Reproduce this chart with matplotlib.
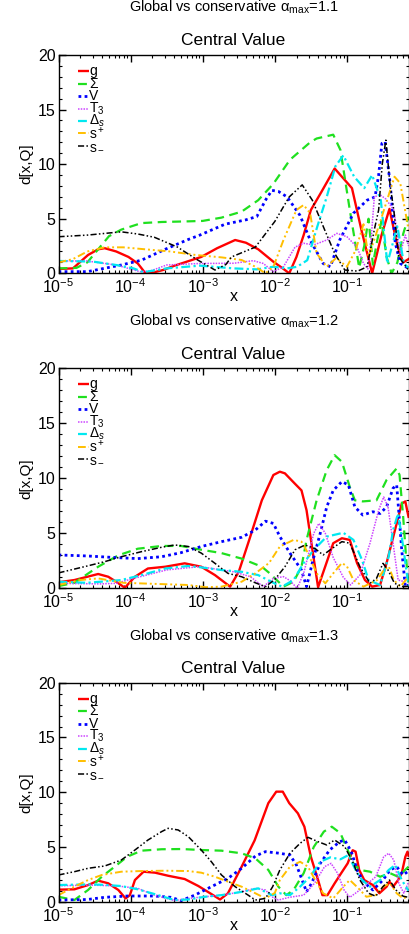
import matplotlib
matplotlib.use("Agg")
import matplotlib.pyplot as plt
from matplotlib.ticker import LogLocator, MultipleLocator, NullFormatter
import numpy as np

plt.rcParams.update({
    "font.family": ["Liberation Sans", "DejaVu Sans"],
    "mathtext.fontset": "custom",
    "mathtext.rm": "Liberation Sans",
    "mathtext.it": "Liberation Sans:italic",
    "mathtext.bf": "Liberation Sans:bold",
    "font.size": 10,
    "axes.linewidth": 1.0,
    "xtick.direction": "in",
    "ytick.direction": "in",
    "xtick.top": True,
    "ytick.right": True,
})

# ---- data: log10(x) and d[x,Q] ----
# panel 1 (alpha_max = 1.1)
g1_lx = [-5.0, -4.8, -4.59, -4.45, -4.36, -4.2, -4.03, -3.9, -3.8, -3.7, -3.55, -3.39, -3.02, -2.8, -2.55,
         -2.4, -2.23, -2.02, -1.9, -1.8, -1.7, -1.6, -1.5, -1.35, -1.17, -0.93, -0.8, -0.65, -0.52, -0.41,
         -0.3, -0.22, -0.146]
g1_d = [0.4, 0.45, 1.68, 2.2, 2.3, 2.0, 1.5, 0.9, 0.05, 0.05, 0.3, 0.7, 1.5, 2.3, 3.05,
        2.8, 2.2, 1.06, 0.5, 0.0, 1.5, 3.5, 5.8, 7.5, 9.6, 7.8, 4.0, 0.0, 3.5, 5.9,
        2.5, 1.0, 1.3]
sig1_lx = [-5.0, -4.75, -4.6, -4.45, -4.3, -4.13, -3.85, -3.57, -3.2, -3.0, -2.74, -2.46, -2.23, -2.02,
           -1.79, -1.51, -1.42, -1.19, -1.09, -0.96, -0.89, -0.83, -0.76, -0.70, -0.64, -0.58, -0.52,
           -0.45, -0.38, -0.3, -0.22, -0.146]
sig1_d = [0.45, 0.5, 1.0, 2.2, 3.4, 4.0, 4.6, 4.7, 4.76, 4.8, 5.1, 5.65, 6.7, 8.2,
          10.4, 12.0, 12.35, 12.7, 11.3, 5.8, 3.0, 0.5, 2.5, 5.0, 0.8, 3.0, 4.8,
          1.5, 0.0, 1.0, 3.6, 5.2]
v1_lx = [-5.0, -4.6, -4.36, -4.13, -3.85, -3.52, -3.2, -3.04, -2.69, -2.4, -2.25, -2.12, -2.04, -1.95,
         -1.83, -1.65, -1.51, -1.33, -1.23, -1.10, -0.91, -0.72, -0.61, -0.56, -0.515, -0.47, -0.40,
         -0.33, -0.26, -0.146]
v1_d = [0.15, 0.15, 0.46, 0.76, 1.2, 2.2, 3.1, 3.5, 4.5, 4.9, 5.2, 6.8, 7.6, 7.5,
        7.0, 5.3, 3.05, 0.9, 0.6, 3.05, 5.5, 6.7, 7.0, 9.0, 11.9, 12.06, 8.2,
        2.8, 0.9, 0.45]
t1_lx = [-5.0, -4.61, -4.2, -3.87, -3.73, -3.5, -3.04, -2.57, -2.3, -2.16, -2.02, -1.88, -1.72, -1.60,
         -1.46, -1.28, -1.14, -1.0, -0.86, -0.77, -0.71, -0.66, -0.62, -0.54, -0.46, -0.35, -0.26,
         -0.19, -0.146]
t1_d = [1.13, 1.13, 0.76, 0.15, 0.2, 0.76, 0.9, 0.92, 1.16, 0.9, 0.15, 0.6, 2.4, 2.75,
        2.6, 3.05, 3.66, 3.35, 2.4, 0.9, 0.4, 3.5, 7.0, 7.2, 6.8, 5.8, 1.83,
        3.5, 2.5]
ds1_lx = [-5.0, -4.52, -4.2, -3.96, -3.82, -3.5, -3.04, -2.57, -2.25, -2.02, -1.83, -1.69, -1.55, -1.41,
          -1.28, -1.16, -1.05, -0.9, -0.76, -0.65, -0.53, -0.44, -0.30, -0.21, -0.146]
ds1_d = [1.13, 1.07, 0.76, 0.45, 0.1, 0.45, 0.7, 0.45, 0.36, 0.6, 0.45, 0.6, 1.2, 4.3,
         7.0, 9.8, 10.8, 8.85, 7.8, 9.0, 6.7, 0.9, 4.3, 0.9, 0.5]
sp1_lx = [-5.0, -4.8, -4.6, -4.36, -4.1, -3.8, -3.45, -3.1, -2.74, -2.46, -2.27, -2.13, -2.02, -1.88,
          -1.70, -1.60, -1.51, -1.42, -1.28, -1.15, -1.0, -0.88, -0.77, -0.70, -0.6, -0.53, -0.34,
          -0.26, -0.17, -0.146]
sp1_d = [1.0, 1.3, 2.0, 2.38, 2.38, 2.2, 2.0, 1.68, 1.46, 1.22, 0.6, 0.0, 0.6, 3.05,
         5.8, 6.26, 5.5, 1.83, 0.6, 1.4, 0.6, 2.1, 4.5, 1.5, 3.5, 4.9, 8.85,
         8.25, 4.9, 4.0]
sm1_lx = [-5.0, -4.6, -4.13, -3.9, -3.67, -3.35, -3.07, -2.83, -2.68, -2.6, -2.27, -2.0, -1.8, -1.62,
          -1.48, -1.31, -1.17, -1.03, -0.85, -0.72, -0.62, -0.56, -0.51, -0.46, -0.40, -0.35, -0.28,
          -0.146]
sm1_d = [3.35, 3.5, 3.8, 3.6, 3.3, 2.4, 1.22, 0.3, 0.8, 1.5, 2.4, 4.75, 7.0, 8.1,
         6.7, 4.0, 1.83, 0.3, 0.2, 0.6, 4.0, 5.8, 10.0, 12.2, 8.0, 5.8, 1.5,
         0.3]

# panel 2 (alpha_max = 1.2)
g2_lx = [-5.0, -4.78, -4.45, -4.31, -4.2, -4.08, -3.94, -3.76, -3.52, -3.25, -3.02, -2.83, -2.62, -2.5,
         -2.35, -2.18, -2.02, -1.93, -1.86, -1.72, -1.63, -1.56, -1.465, -1.40, -1.30, -1.19, -1.07,
         -0.96, -0.86, -0.75, -0.65, -0.54, -0.45, -0.38, -0.31, -0.24, -0.19, -0.146]
g2_d = [0.55, 0.75, 1.3, 1.05, 0.6, 0.05, 1.05, 1.8, 1.96, 2.27, 1.96, 1.2, 0.15, 1.5,
        4.5, 8.0, 10.3, 10.6, 10.45, 9.5, 8.9, 7.1, 2.9, 0.1, 2.0, 4.1, 4.55,
        4.4, 2.3, 0.75, 0.15, 0.3, 2.3, 4.1, 5.9, 7.7, 7.9, 6.5]
sig2_lx = [-5.0, -4.78, -4.45, -4.17, -3.9, -3.57, -3.3, -3.06, -2.74, -2.46, -2.18, -2.07, -1.88, -1.74,
           -1.63, -1.56, -1.42, -1.28, -1.17, -1.07, -0.96, -0.89, -0.78, -0.59, -0.45, -0.31, -0.27,
           -0.22, -0.17, -0.146]
sig2_d = [0.2, 0.5, 1.96, 3.0, 3.6, 3.85, 3.85, 3.55, 3.2, 2.7, 1.96, 1.36, 0.15, 0.6,
          1.96, 4.4, 8.0, 10.75, 12.1, 11.5, 9.2, 8.0, 7.9, 8.0, 9.85, 10.9, 10.3,
          6.5, 2.0, 0.3]
v2_lx = [-5.0, -4.6, -4.23, -3.9, -3.57, -3.3, -3.02, -2.74, -2.46, -2.27, -2.13, -2.02, -1.93, -1.79,
         -1.63, -1.56, -1.47, -1.37, -1.28, -1.19, -1.07, -0.98, -0.89, -0.78, -0.64, -0.54, -0.45,
         -0.36, -0.31, -0.24, -0.19, -0.146]
v2_d = [3.03, 2.94, 2.8, 2.7, 2.87, 3.24, 3.8, 4.24, 4.64, 5.3, 6.1, 5.9, 4.7, 3.2,
        1.66, 0.15, 2.57, 5.0, 7.4, 8.9, 9.7, 9.4, 7.4, 6.66, 6.96, 6.8, 7.4,
        9.1, 9.4, 3.5, 0.15, 0.3]
t2_lx = [-5.0, -4.43, -4.2, -3.96, -3.5, -3.04, -2.57, -2.34, -2.16, -2.02, -1.88, -1.79, -1.69, -1.6,
         -1.46, -1.39, -1.30, -1.19, -1.05, -0.95, -0.82, -0.68, -0.56, -0.49, -0.43, -0.36, -0.29,
         -0.2, -0.146]
t2_d = [0.45, 0.4, 0.45, 0.9, 1.67, 1.97, 1.5, 1.06, 0.15, 0.9, 1.06, 0.7, 0.0, 1.36,
        5.0, 5.9, 5.0, 2.8, 1.0, 0.3, 1.2, 4.1, 7.1, 8.3, 7.4, 4.1, 0.75,
        0.6, 1.4]
ds2_lx = [-5.0, -4.6, -4.13, -3.85, -3.52, -3.2, -3.02, -2.74, -2.46, -2.23, -2.02, -1.9, -1.74, -1.6,
          -1.46, -1.28, -1.05, -0.91, -0.79, -0.70, -0.54, -0.42, -0.36, -0.29, -0.22, -0.146]
ds2_d = [0.6, 0.5, 0.75, 1.2, 1.8, 2.03, 1.9, 1.66, 1.5, 1.2, 0.5, 0.15, 0.75, 2.3,
         3.5, 4.7, 5.05, 4.4, 2.57, 0.75, 0.3, 2.9, 5.3, 6.8, 3.8, 0.2]
sp2_lx = [-5.0, -4.7, -4.45, -4.1, -3.65, -3.2, -2.96, -2.74, -2.46, -2.27, -2.08, -1.93, -1.74, -1.63,
          -1.54, -1.42, -1.30, -1.19, -1.07, -1.0, -0.91, -0.77, -0.58, -0.49, -0.42, -0.35, -0.26,
          -0.146]
sp2_d = [0.3, 0.75, 0.9, 0.5, 0.4, 0.3, 0.1, 0.15, 0.6, 1.36, 2.3, 3.8, 4.4, 4.24,
         3.2, 1.36, 0.45, 1.36, 2.3, 2.0, 0.75, 0.15, 0.75, 1.66, 2.0, 0.75, 0.15,
         1.05]
sm2_lx = [-5.0, -4.6, -4.36, -4.13, -3.85, -3.57, -3.39, -3.2, -3.02, -2.83, -2.65, -2.46, -2.27, -2.13,
          -2.0, -1.86, -1.72, -1.58, -1.44, -1.33, -1.21, -1.07, -0.96, -0.82, -0.68, -0.59, -0.50,
          -0.43, -0.34, -0.22, -0.146]
sm2_d = [1.4, 2.03, 2.42, 2.87, 3.33, 3.73, 3.94, 3.8, 3.2, 2.27, 1.36, 1.05, 0.5, 0.15,
         0.8, 1.96, 3.5, 3.94, 3.6, 3.03, 3.6, 4.24, 4.1, 1.96, 0.45, 0.9, 2.27,
         1.66, 0.45, 0.15, 0.2]

# panel 3 (alpha_max = 1.3)
g3_lx = [-5.0, -4.78, -4.59, -4.45, -4.31, -4.17, -4.07, -4.01, -3.94, -3.82, -3.66, -3.48, -3.25, -3.06,
         -2.88, -2.76, -2.65, -2.46, -2.28, -2.09, -1.98, -1.89, -1.80, -1.68, -1.59, -1.50, -1.40,
         -1.34, -1.27, -1.17, -1.08, -0.99, -0.92, -0.88, -0.83, -0.76, -0.64, -0.55, -0.45, -0.41,
         -0.36, -0.29, -0.24, -0.19, -0.16, -0.146]
g3_d = [1.1, 1.13, 1.52, 1.92, 1.68, 1.07, 0.3, 0.6, 1.98, 2.74, 2.65, 2.37, 2.07, 1.43,
        0.7, 0.2, 0.77, 3.2, 5.6, 9.0, 10.05, 10.05, 9.0, 8.07, 6.85, 4.1, 1.98,
        0.6, 0.6, 1.68, 2.6, 3.5, 4.7, 4.57, 2.9, 1.98, 1.52, 0.77, 1.37, 1.83,
        1.37, 1.98, 2.6, 4.1, 4.57, 4.2]
sig3_lx = [-5.0, -4.78, -4.59, -4.40, -4.22, -4.05, -3.85, -3.57, -3.29, -3.02, -2.74, -2.46, -2.27, -2.09,
           -1.95, -1.84, -1.74, -1.60, -1.46, -1.32, -1.21, -1.09, -1.0, -0.91, -0.82, -0.68, -0.54,
           -0.40, -0.29, -0.146]
sig3_d = [0.45, 0.15, 1.07, 2.28, 3.2, 4.1, 4.66, 4.79, 4.81, 4.72, 4.66, 4.42, 3.96, 2.9,
          1.37, 0.6, 1.07, 2.6, 5.0, 6.4, 6.85, 6.25, 4.88, 3.5, 2.9, 2.74, 2.28,
          2.6, 2.28, 3.2]
v3_lx = [-5.0, -4.6, -4.36, -4.04, -3.67, -3.44, -3.30, -3.11, -2.88, -2.65, -2.46, -2.27, -2.13, -1.93,
         -1.79, -1.70, -1.63, -1.56, -1.49, -1.37, -1.24, -1.10, -1.03, -0.94, -0.85, -0.75, -0.64,
         -0.50, -0.40, -0.31, -0.22, -0.146]
v3_d = [0.15, 0.2, 0.4, 0.52, 0.52, 0.4, 0.1, 0.6, 1.37, 2.13, 3.05, 4.17, 4.57, 4.42,
        4.26, 3.35, 2.13, 0.9, 1.68, 3.5, 4.72, 5.48, 5.63, 4.57, 2.74, 1.68, 1.07,
        1.98, 2.9, 3.2, 2.44, 2.8]
t3_lx = [-5.0, -4.59, -4.2, -3.9, -3.67, -3.39, -3.2, -2.97, -2.74, -2.46, -2.27, -2.13, -2.04, -1.95,
         -1.8, -1.6, -1.45, -1.31, -1.22, -1.13, -1.04, -0.96, -0.82, -0.6, -0.49, -0.42, -0.35,
         -0.28, -0.21, -0.146]
t3_d = [1.45, 1.52, 1.45, 1.22, 0.6, 0.1, 0.3, 0.45, 0.6, 0.9, 1.22, 1.07, 0.45, 0.15,
        0.4, 0.6, 1.68, 3.2, 3.5, 2.6, 1.07, 0.4, 1.07, 2.28, 4.1, 4.42, 3.8,
        1.68, 0.77, 1.8]
ds3_lx = [-5.0, -4.6, -4.4, -4.13, -3.9, -3.67, -3.39, -3.2, -2.97, -2.74, -2.46, -2.23, -2.04, -1.93,
          -1.79, -1.65, -1.51, -1.37, -1.23, -1.09, -0.98, -0.88, -0.79, -0.68, -0.54, -0.42, -0.33,
          -0.24, -0.146]
ds3_d = [1.52, 1.58, 1.55, 1.43, 1.13, 0.7, 0.15, 0.2, 0.45, 0.6, 0.9, 1.22, 0.6, 0.77,
         0.6, 1.37, 2.28, 3.65, 4.05, 3.87, 4.26, 2.9, 1.98, 1.37, 1.98, 2.9, 3.35,
         1.98, 1.0]
sp3_lx = [-5.0, -4.78, -4.59, -4.40, -4.13, -3.85, -3.52, -3.2, -3.02, -2.83, -2.65, -2.46, -2.27, -2.13,
          -2.0, -1.93, -1.79, -1.65, -1.54, -1.44, -1.33, -1.19, -1.05, -0.96, -0.84, -0.73, -0.6,
          -0.5, -0.40, -0.31, -0.22, -0.146]
sp3_d = [0.6, 1.37, 1.98, 2.44, 2.74, 2.8, 2.83, 2.8, 2.65, 2.28, 1.83, 1.37, 0.77, 0.3,
         0.8, 1.98, 3.2, 3.65, 3.2, 1.98, 0.77, 0.3, 1.37, 1.98, 1.22, 0.45, 0.6,
         1.37, 1.68, 0.77, 0.3, 0.5]
sm3_lx = [-5.0, -4.78, -4.59, -4.36, -4.13, -3.94, -3.76, -3.57, -3.48, -3.34, -3.2, -3.02, -2.88, -2.74,
          -2.55, -2.37, -2.27, -2.13, -2.03, -1.93, -1.79, -1.65, -1.54, -1.40, -1.28, -1.17, -1.03,
          -0.91, -0.82, -0.70, -0.6, -0.50, -0.41, -0.32, -0.22, -0.146]
sm3_d = [2.44, 2.74, 3.05, 3.26, 3.8, 4.72, 5.63, 6.4, 6.7, 6.55, 5.94, 4.72, 3.65, 2.44,
         1.37, 0.6, 0.15, 0.3, 1.37, 2.9, 4.42, 5.33, 5.88, 5.48, 5.18, 5.63, 5.02,
         3.5, 1.98, 0.77, 0.5, 1.37, 1.98, 1.07, 0.5, 0.4]

alpha_max = ["1.1", "1.2", "1.3"]
labels = ["g", "Σ", "V", "T$_3$", "Δ$_s$", "s$^+$", "s$_-$"]
panels = [
    [(g1_lx, g1_d), (sig1_lx, sig1_d), (v1_lx, v1_d), (t1_lx, t1_d), (ds1_lx, ds1_d), (sp1_lx, sp1_d), (sm1_lx, sm1_d)],
    [(g2_lx, g2_d), (sig2_lx, sig2_d), (v2_lx, v2_d), (t2_lx, t2_d), (ds2_lx, ds2_d), (sp2_lx, sp2_d), (sm2_lx, sm2_d)],
    [(g3_lx, g3_d), (sig3_lx, sig3_d), (v3_lx, v3_d), (t3_lx, t3_d), (ds3_lx, ds3_d), (sp3_lx, sp3_d), (sm3_lx, sm3_d)],
]

# line styles per flavour
styles = [
    dict(color="#ff0000", lw=1.7, ls="-"),
    dict(color="#1fe01f", lw=1.6, ls=(0, (4, 2.5))),
    dict(color="#0000ff", lw=2.0, ls=(0, (1, 1.2))),
    dict(color="#cc44ff", lw=1.1, ls=(0, (1, 0.8))),
    dict(color="#00e8f0", lw=1.6, ls=(0, (4, 1.5, 1, 1.5))),
    dict(color="#ffbf00", lw=1.4, ls=(0, (4, 1.5, 1, 1.5, 1, 1.5))),
    dict(color="black", lw=1.1, ls=(0, (4, 1.5, 1, 1.5, 1, 1.5))),
]

W, H = 409, 934
fig = plt.figure(figsize=(W / 100, H / 100), dpi=100)
fig.patch.set_facecolor("white")

# axes boxes in pixels (top, bottom)
boxes = [(55, 273.3), (368.3, 588.3), (682.7, 901.7)]
sup_y = [7, 321, 636]
ax_left, ax_right = 58.5, 408.5
xmax = 10 ** -0.146

for k, (top, bot) in enumerate(boxes):
    ax = fig.add_axes([ax_left / W, 1 - bot / H, (ax_right - ax_left) / W, (bot - top) / H])
    for (lx, d), st in zip(panels[k], styles):
        ax.plot(10 ** np.array(lx), d, solid_joinstyle="round", dash_capstyle="butt", **st)

    ax.set_xscale("log")
    ax.set_xlim(1e-5, xmax)
    ax.set_ylim(0, 20)
    ax.yaxis.set_major_locator(MultipleLocator(5))
    ax.yaxis.set_minor_locator(MultipleLocator(1))
    ax.xaxis.set_major_locator(LogLocator(base=10, numticks=10))
    ax.xaxis.set_minor_locator(LogLocator(base=10, subs=np.arange(2, 10), numticks=20))
    ax.xaxis.set_minor_formatter(NullFormatter())
    ax.tick_params(which="major", length=5, width=1.0, labelsize=11.5, pad=3)
    ax.tick_params(which="minor", length=2.5, width=0.8)
    ax.tick_params(axis="y", pad=2)

    ax.set_title("Central Value", fontsize=12.5, pad=7)
    ax.set_xlabel("x", fontsize=11.5, labelpad=-5)
    ax.set_ylabel("d[x,Q]", fontsize=11, labelpad=3)

    fig.text(0.5 * (ax_left + ax_right) / W, 1 - sup_y[k] / H,
             "Global vs conservative α$_{\\rm max}$=" + alpha_max[k],
             ha="center", va="center", fontsize=10.5)

    # legend keys drawn by hand to keep the tight row spacing
    axh = bot - top
    for i, (lab, st) in enumerate(zip(labels, styles)):
        yy = 1 - (16 + 12.5 * i) / axh
        ax.plot([0.056, 0.086], [yy, yy], transform=ax.transAxes, clip_on=False,
                solid_capstyle="butt", dash_capstyle="butt", **st)
        ax.text(0.088, yy, lab, transform=ax.transAxes, fontsize=10, va="center", ha="left")

fig.savefig("out.png", dpi=100, facecolor="white")
